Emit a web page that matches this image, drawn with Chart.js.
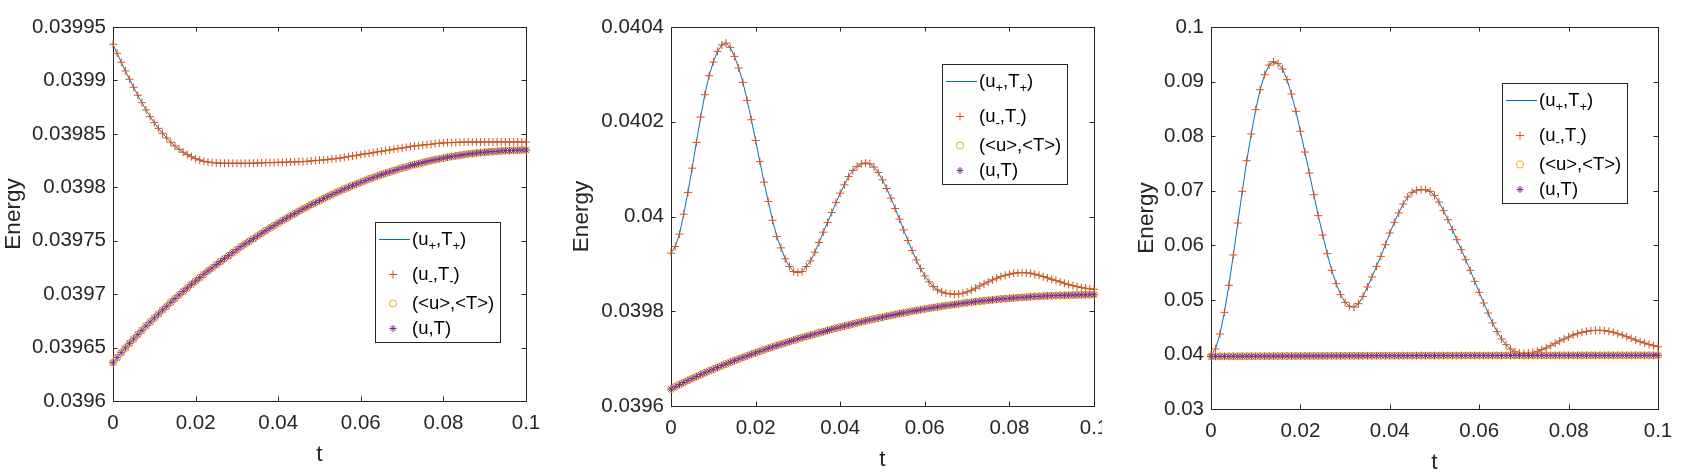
<!DOCTYPE html>
<html>
<head>
<meta charset="utf-8">
<title>Energy</title>
<script src="https://cdn.jsdelivr.net/npm/chart.js@4.4.0/dist/chart.umd.min.js"></script>
<style>
  html, body { margin: 0; padding: 0; background: #fff; }
  body { width: 1687px; height: 476px; position: relative; overflow: hidden; }
  .panel { position: absolute; top: 0; height: 476px; overflow: hidden; }
  .panel canvas { position: absolute; left: 0; top: 0; }
</style>
</head>
<body>
<div class="panel" style="left:0px;width:558px"><canvas id="chart1" width="558" height="476"></canvas></div>
<div class="panel" style="left:558px;width:544px"><canvas id="chart2" width="582" height="476"></canvas></div>
<div class="panel" style="left:1098px;width:589px"><canvas id="chart3" width="589" height="476"></canvas></div>
<script>
// time samples shared by every series
const timeValues = [
  0, 0.001, 0.002, 0.003, 0.004, 0.005, 0.006, 0.007, 0.008, 0.009,
  0.010, 0.011, 0.012, 0.013, 0.014, 0.015, 0.016, 0.017, 0.018, 0.019,
  0.020, 0.021, 0.022, 0.023, 0.024, 0.025, 0.026, 0.027, 0.028, 0.029,
  0.030, 0.031, 0.032, 0.033, 0.034, 0.035, 0.036, 0.037, 0.038, 0.039,
  0.040, 0.041, 0.042, 0.043, 0.044, 0.045, 0.046, 0.047, 0.048, 0.049,
  0.050, 0.051, 0.052, 0.053, 0.054, 0.055, 0.056, 0.057, 0.058, 0.059,
  0.060, 0.061, 0.062, 0.063, 0.064, 0.065, 0.066, 0.067, 0.068, 0.069,
  0.070, 0.071, 0.072, 0.073, 0.074, 0.075, 0.076, 0.077, 0.078, 0.079,
  0.080, 0.081, 0.082, 0.083, 0.084, 0.085, 0.086, 0.087, 0.088, 0.089,
  0.090, 0.091, 0.092, 0.093, 0.094, 0.095, 0.096, 0.097, 0.098, 0.099,
  0.100
];

// (u+,T+) and (u-,T-) lie on top of each other in every panel
const p1Upper = [
  0.0399338, 0.0399254, 0.0399170, 0.0399089, 0.0399011, 0.0398936, 0.0398861, 0.0398792, 0.0398724, 0.0398661,
  0.0398605, 0.0398552, 0.0398505, 0.0398462, 0.0398421, 0.0398387, 0.0398356, 0.0398328, 0.0398306, 0.0398287,
  0.0398268, 0.0398256, 0.0398243, 0.0398237, 0.0398231, 0.0398228, 0.0398225, 0.0398225, 0.0398225, 0.0398225,
  0.0398225, 0.0398225, 0.0398225, 0.0398225, 0.0398225, 0.0398228, 0.0398228, 0.0398231, 0.0398231, 0.0398231,
  0.0398234, 0.0398234, 0.0398234, 0.0398237, 0.0398237, 0.0398240, 0.0398240, 0.0398243, 0.0398246, 0.0398250,
  0.0398253, 0.0398256, 0.0398259, 0.0398265, 0.0398268, 0.0398274, 0.0398281, 0.0398287, 0.0398293, 0.0398299,
  0.0398306, 0.0398312, 0.0398318, 0.0398324, 0.0398331, 0.0398337, 0.0398343, 0.0398349, 0.0398356, 0.0398362,
  0.0398368, 0.0398374, 0.0398381, 0.0398387, 0.0398390, 0.0398396, 0.0398399, 0.0398402, 0.0398409, 0.0398412,
  0.0398415, 0.0398418, 0.0398418, 0.0398421, 0.0398421, 0.0398424, 0.0398424, 0.0398424, 0.0398424, 0.0398424,
  0.0398424, 0.0398424, 0.0398424, 0.0398424, 0.0398424, 0.0398424, 0.0398424, 0.0398424, 0.0398424, 0.0398424,
  0.0398424
];

const p2Upper = [
  0.0399225, 0.0399366, 0.0399627, 0.0400049, 0.0400507, 0.0401021, 0.0401563, 0.0402098, 0.0402570, 0.0402972,
  0.0403260, 0.0403486, 0.0403619, 0.0403662, 0.0403570, 0.0403380, 0.0403134, 0.0402831, 0.0402450, 0.0402042,
  0.0401605, 0.0401162, 0.0400725, 0.0400317, 0.0399922, 0.0399577, 0.0399338, 0.0399106, 0.0398944, 0.0398838,
  0.0398817, 0.0398838, 0.0398944, 0.0399063, 0.0399246, 0.0399451, 0.0399669, 0.0399873, 0.0400084, 0.0400296,
  0.0400493, 0.0400669, 0.0400845, 0.0400972, 0.0401056, 0.0401112, 0.0401127, 0.0401112, 0.0401042, 0.0400929,
  0.0400774, 0.0400591, 0.0400387, 0.0400169, 0.0399944, 0.0399718, 0.0399493, 0.0399282, 0.0399084, 0.0398901,
  0.0398746, 0.0398620, 0.0398521, 0.0398451, 0.0398408, 0.0398380, 0.0398366, 0.0398359, 0.0398366, 0.0398380,
  0.0398408, 0.0398444, 0.0398486, 0.0398535, 0.0398577, 0.0398620, 0.0398662, 0.0398697, 0.0398732, 0.0398760,
  0.0398782, 0.0398803, 0.0398810, 0.0398817, 0.0398810, 0.0398803, 0.0398782, 0.0398760, 0.0398732, 0.0398704,
  0.0398676, 0.0398648, 0.0398620, 0.0398591, 0.0398563, 0.0398542, 0.0398521, 0.0398500, 0.0398486, 0.0398472,
  0.0398465
];

const p3Upper = [
  0.03996, 0.04100, 0.04374, 0.04771, 0.05266, 0.05822, 0.06408, 0.06989, 0.07550, 0.08039,
  0.08485, 0.08851, 0.09126, 0.09303, 0.09365, 0.09328, 0.09230, 0.09035, 0.08772, 0.08454,
  0.08088, 0.07709, 0.07324, 0.06927, 0.06543, 0.06188, 0.05846, 0.05541, 0.05297, 0.05095,
  0.04955, 0.04881, 0.04869, 0.04930, 0.05064, 0.05236, 0.05419, 0.05614, 0.05797, 0.06011,
  0.06225, 0.06420, 0.06592, 0.06756, 0.06885, 0.06970, 0.07007, 0.07019, 0.07019, 0.06989,
  0.06915, 0.06793, 0.06634, 0.06469, 0.06286, 0.06103, 0.05920, 0.05736, 0.05541, 0.05339,
  0.05138, 0.04942, 0.04759, 0.04576, 0.04417, 0.04283, 0.04179, 0.04099, 0.04051, 0.04026,
  0.04020, 0.04026, 0.04038, 0.04057, 0.04087, 0.04118, 0.04161, 0.04203, 0.04246, 0.04283,
  0.04319, 0.04356, 0.04380, 0.04405, 0.04423, 0.04435, 0.04441, 0.04441, 0.04435, 0.04423,
  0.04405, 0.04380, 0.04356, 0.04325, 0.04295, 0.04264, 0.04234, 0.04209, 0.04185, 0.04161,
  0.04142
];

// (<u>,<T>) and (u,T) read the same in all three panels
const meanEnergy = [
  0.0396359, 0.0396406, 0.0396452, 0.0396496, 0.0396540, 0.0396580, 0.0396621, 0.0396661, 0.0396702, 0.0396739,
  0.0396777, 0.0396814, 0.0396852, 0.0396886, 0.0396924, 0.0396958, 0.0396992, 0.0397026, 0.0397058, 0.0397092,
  0.0397123, 0.0397154, 0.0397186, 0.0397217, 0.0397245, 0.0397276, 0.0397304, 0.0397332, 0.0397360, 0.0397388,
  0.0397416, 0.0397445, 0.0397470, 0.0397494, 0.0397519, 0.0397544, 0.0397569, 0.0397594, 0.0397619, 0.0397641,
  0.0397666, 0.0397688, 0.0397710, 0.0397732, 0.0397753, 0.0397775, 0.0397797, 0.0397816, 0.0397838, 0.0397856,
  0.0397875, 0.0397894, 0.0397913, 0.0397931, 0.0397950, 0.0397966, 0.0397984, 0.0398000, 0.0398016, 0.0398031,
  0.0398047, 0.0398062, 0.0398078, 0.0398090, 0.0398106, 0.0398118, 0.0398131, 0.0398143, 0.0398156, 0.0398168,
  0.0398181, 0.0398190, 0.0398203, 0.0398212, 0.0398221, 0.0398231, 0.0398240, 0.0398250, 0.0398259, 0.0398265,
  0.0398274, 0.0398281, 0.0398287, 0.0398293, 0.0398299, 0.0398306, 0.0398312, 0.0398315, 0.0398321, 0.0398324,
  0.0398328, 0.0398331, 0.0398334, 0.0398337, 0.0398340, 0.0398343, 0.0398343, 0.0398346, 0.0398346, 0.0398349,
  0.0398349
];

const tTicks = [0, 0.02, 0.04, 0.06, 0.08, 0.1];
const p1YTicks = [0.0396, 0.03965, 0.0397, 0.03975, 0.0398, 0.03985, 0.0399, 0.03995];
const p2YTicks = [0.0396, 0.0398, 0.04, 0.0402, 0.0404];
const p3YTicks = [0.03, 0.04, 0.05, 0.06, 0.07, 0.08, 0.09, 0.1];

// '_' marks the next character as a subscript
const seriesLabels = ['(u_+,T_+)', '(u_-,T_-)', '(<u>,<T>)', '(u,T)'];

const FONT = "'Liberation Sans', Arial, Helvetica, sans-serif";
const AXIS_COLOR = '#262626';
const TICK_LEN = 4.5;
const Y_AXIS_WIDTH = 113;

Chart.defaults.font.family = FONT;
Chart.defaults.color = AXIS_COLOR;

function formatTick(v) {
    return String(Number(v.toPrecision(6)));
}

// MATLAB style box: all four sides, ticks pointing inward
const axesBox = {
    id: 'axesBox',
    beforeDatasetsDraw(chart) {
        const { ctx, chartArea: a, scales } = chart;
        ctx.save();
        ctx.strokeStyle = AXIS_COLOR;
        ctx.lineWidth = 1;
        ctx.beginPath();
        scales.x.ticks.forEach(tk => {
            const px = Math.round(scales.x.getPixelForValue(tk.value)) + 0.5;
            ctx.moveTo(px, a.bottom); ctx.lineTo(px, a.bottom - TICK_LEN);
            ctx.moveTo(px, a.top); ctx.lineTo(px, a.top + TICK_LEN);
        });
        scales.y.ticks.forEach(tk => {
            const py = Math.round(scales.y.getPixelForValue(tk.value)) + 0.5;
            ctx.moveTo(a.left, py); ctx.lineTo(a.left + TICK_LEN, py);
            ctx.moveTo(a.right, py); ctx.lineTo(a.right - TICK_LEN, py);
        });
        ctx.stroke();
        ctx.strokeRect(a.left + 0.5, a.top + 0.5, a.right - a.left, a.bottom - a.top);
        ctx.restore();
    }
};

function drawRichLabel(ctx, text, x, y) {
    const parts = [];
    let run = '';
    for (let i = 0; i < text.length; i++) {
        if (text[i] === '_' && i + 1 < text.length) {
            if (run) parts.push({ s: run, sub: false });
            run = '';
            parts.push({ s: text[i + 1], sub: true });
            i++;
        } else {
            run += text[i];
        }
    }
    if (run) parts.push({ s: run, sub: false });

    parts.forEach(p => {
        ctx.font = p.sub ? `13px ${FONT}` : `18.5px ${FONT}`;
        ctx.fillText(p.s, x, p.sub ? y + 7 : y);
        x += ctx.measureText(p.s).width;
    });
}

// boxed legend, drawn over the data like the MATLAB one
const boxLegend = {
    id: 'boxLegend',
    afterDatasetsDraw(chart, args, opts) {
        const { ctx, chartArea: a } = chart;
        const left = a.left + opts.dx;
        const top = a.top + opts.dy;
        const rows = [17.5, 52.5, 81.5, 106.5];
        ctx.save();
        ctx.fillStyle = '#fff';
        ctx.fillRect(left, top, 125, 120);
        ctx.strokeStyle = AXIS_COLOR;
        ctx.lineWidth = 1;
        ctx.strokeRect(left + 0.5, top + 0.5, 125, 120);

        chart.data.datasets.forEach((ds, i) => {
            const y = top + rows[i];
            if (ds.showLine !== false) {
                ctx.strokeStyle = ds.borderColor;
                ctx.lineWidth = ds.borderWidth;
                ctx.beginPath();
                ctx.moveTo(left + 4, y);
                ctx.lineTo(left + 35, y);
                ctx.stroke();
            } else {
                ctx.strokeStyle = ds.borderColor;
                ctx.fillStyle = 'rgba(0,0,0,0)';
                ctx.lineWidth = ds.pointBorderWidth;
                Chart.helpers.drawPoint(ctx, {
                    pointStyle: ds.pointStyle,
                    radius: ds.pointRadius,
                    borderWidth: ds.pointBorderWidth,
                    rotation: 0
                }, left + 18, y);
            }
            ctx.fillStyle = '#000';
            ctx.textBaseline = 'middle';
            ctx.textAlign = 'left';
            drawRichLabel(ctx, ds.label, left + 37, y);
        });
        ctx.restore();
    }
};

function toPoints(values) {
    return timeValues.map((t, i) => ({ x: t, y: values[i] }));
}

function buildPanel(cfg) {
    const yTicks = cfg.yTicks;
    return new Chart(document.getElementById(cfg.id), {
        type: 'line',
        data: {
            datasets: [
                {
                    label: seriesLabels[0], data: toPoints(cfg.upper),
                    borderColor: '#0072BD', borderWidth: 1, pointRadius: 0,
                    tension: 0, clip: false, order: 3
                },
                {
                    label: seriesLabels[1], data: toPoints(cfg.upper), showLine: false,
                    pointStyle: 'cross', pointRadius: 4, pointBorderWidth: 1,
                    borderColor: '#D95319', backgroundColor: 'rgba(0,0,0,0)', clip: false, order: 2
                },
                {
                    label: seriesLabels[2], data: toPoints(meanEnergy), showLine: false,
                    pointStyle: 'circle', pointRadius: 3.6, pointBorderWidth: 1,
                    borderColor: '#EDB120', backgroundColor: 'rgba(0,0,0,0)', clip: false, order: 1
                },
                {
                    label: seriesLabels[3], data: toPoints(meanEnergy), showLine: false,
                    pointStyle: 'star', pointRadius: 3.5, pointBorderWidth: 1,
                    borderColor: '#7E2F8E', backgroundColor: 'rgba(0,0,0,0)', clip: false, order: 0
                }
            ]
        },
        options: {
            responsive: false,
            animation: false,
            devicePixelRatio: 1,
            layout: { padding: { top: 27, right: cfg.padRight, bottom: 0, left: 0 } },
            plugins: {
                legend: { display: false },
                tooltip: { enabled: false },
                boxLegend: { dx: cfg.legendAt[0], dy: cfg.legendAt[1] }
            },
            scales: {
                x: {
                    type: 'linear', min: 0, max: 0.1,
                    afterBuildTicks: s => { s.ticks = tTicks.map(v => ({ value: v })); },
                    afterFit: s => { s.height = cfg.xAxisHeight; },
                    grid: { display: false, drawTicks: false },
                    border: { display: false },
                    ticks: {
                        padding: 10.5, maxRotation: 0, autoSkip: false,
                        font: { size: 20.5 }, color: AXIS_COLOR,
                        callback: v => formatTick(v)
                    },
                    title: {
                        display: true, text: 't', color: AXIS_COLOR,
                        font: { size: 22.5 }, padding: { top: 0, bottom: cfg.xTitlePad }
                    }
                },
                y: {
                    type: 'linear', min: yTicks[0], max: yTicks[yTicks.length - 1],
                    afterBuildTicks: s => { s.ticks = yTicks.map(v => ({ value: v })); },
                    afterFit: s => { s.width = Y_AXIS_WIDTH; },
                    grid: { display: false, drawTicks: false },
                    border: { display: false },
                    ticks: {
                        padding: 7, autoSkip: false,
                        font: { size: 20.5 }, color: AXIS_COLOR,
                        callback: v => formatTick(v)
                    },
                    title: {
                        display: true, text: 'Energy', color: AXIS_COLOR,
                        font: { size: 22.5 }, padding: { top: cfg.yTitlePad, bottom: 0 }
                    }
                }
            }
        },
        plugins: [axesBox, boxLegend]
    });
}

const panels = [
    { id: 'chart1', upper: p1Upper, yTicks: p1YTicks, padRight: 32, xAxisHeight: 75, xTitlePad: 7.5, yTitlePad: 0, legendAt: [262, 195] },
    { id: 'chart2', upper: p2Upper, yTicks: p2YTicks, padRight: 46, xAxisHeight: 70, xTitlePad: 2.5, yTitlePad: 10, legendAt: [271, 37] },
    { id: 'chart3', upper: p3Upper, yTicks: p3YTicks, padRight: 29, xAxisHeight: 67, xTitlePad: 0, yTitlePad: 35.5, legendAt: [291, 56] }
];

panels.forEach(buildPanel);
</script>
</body>
</html>
